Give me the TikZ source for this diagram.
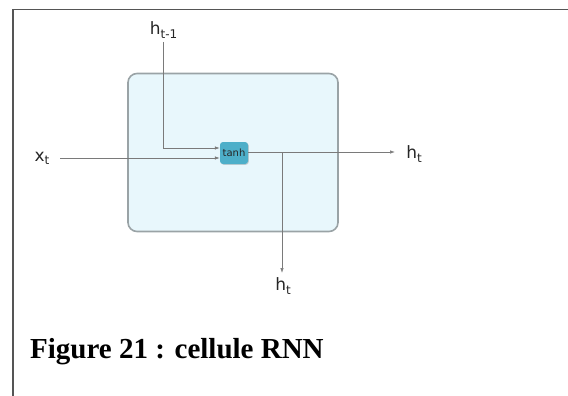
\documentclass[tikz,border=0pt]{standalone}
\usepackage{fontspec}
\setmainfont{Liberation Serif}
\newfontfamily\lblfont{DejaVu Sans}
\usetikzlibrary{arrows.meta,shadows}
\definecolor{cellfill}{HTML}{E8F7FC}
\definecolor{cellborder}{HTML}{9AA3A6}
\definecolor{tanhfill}{HTML}{4DAFC9}
\definecolor{wire}{HTML}{7A7A7A}
\definecolor{frame}{HTML}{555555}
\newcommand{\subtxt}[1]{\raisebox{-0.35ex}{\fontsize{12}{12}\selectfont #1}}
\tikzset{
  cellbox/.style={draw=cellborder, line width=1.6pt, fill=cellfill, rounded corners=9pt},
  tanhbox/.style={fill=tanhfill, rounded corners=3pt, minimum width=28pt, minimum height=22pt, inner sep=0pt,
    font=\lblfont\fontsize{10}{11}\selectfont, text=black!85,
    drop shadow={opacity=0.35, shadow xshift=0.8pt, shadow yshift=-0.8pt}},
  wirestyle/.style={draw=wire, line width=0.7pt},
  arr/.style={wirestyle, -{Latex[length=5pt,width=3.5pt]}},
  lbl/.style={inner sep=0pt, font=\lblfont\fontsize{17}{19}\selectfont, text=black!85},
  caption/.style={inner sep=0pt, anchor=base west, font=\bfseries\fontsize{29}{32}\selectfont}
}
\begin{document}
\begin{tikzpicture}[x=1pt,y=-1pt]
\useasboundingbox (0,0) rectangle (568,396);
% frame
\draw[frame, line width=1.5pt] (13,396) -- (13,9.5) -- (568,9.5);
% cell
\node[cellbox, minimum width=210pt, minimum height=158pt, inner sep=0pt] (cell) at (233,152.5) {};
% tanh
\node[tanhbox] (tanh) at (234,153) {tanh};
% labels
\node[lbl] (hprev) at (163.5,30) {h\subtxt{t-1}};
\node[lbl] (xt) at (42,158) {x\subtxt{t}};
\node[lbl] (hout) at (414,154) {h\subtxt{t}};
\node[lbl] (hdown) at (283,286) {h\subtxt{t}};
\coordinate (prevtop) at (163.7,42);
\coordinate (xstart) at (60,158);
\coordinate (outend) at (395,152);
\coordinate (branch) at (282,152);
\coordinate (downend) at (282,273);
% wires
\draw[arr] (prevtop) |- (tanh.west |- 0,148);
\draw[arr] (xstart) -- (tanh.west |- 0,158);
\draw[arr] (tanh.east |- outend) -- (outend);
\draw[arr] (branch) -- (downend);
% caption
\node[caption] (cap) at (30,358) {Figure 21 : cellule RNN};
\end{tikzpicture}
\end{document}
